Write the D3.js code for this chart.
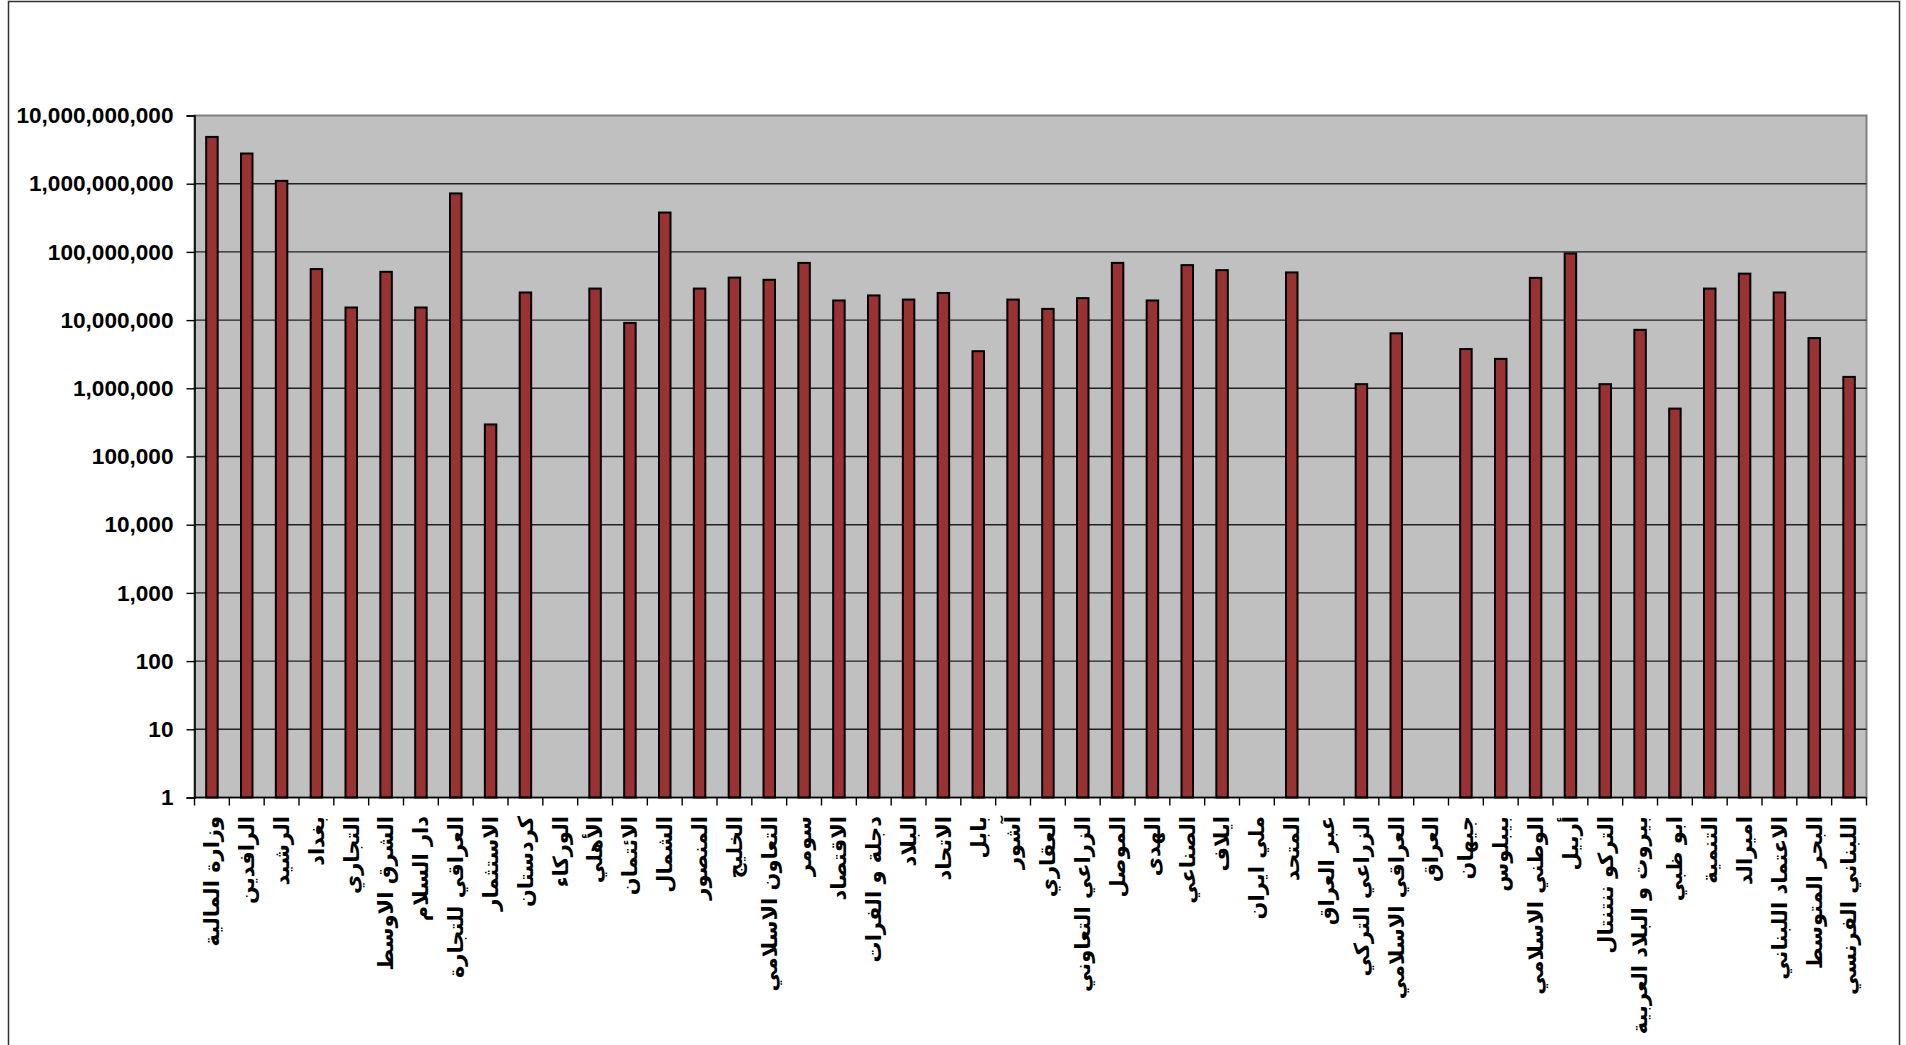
<!DOCTYPE html>
<html>
<head>
<meta charset="utf-8">
<script src="https://cdn.jsdelivr.net/npm/d3@7"></script>
<style>
  body { margin: 0; background: #fff; }
  svg { display: block; }
</style>
</head>
<body>
<div id="chart"></div>
<script>
// bank names, left to right
const banks = [
  "وزارة المالية", "الرافدين", "الرشيد", "بغداد", "التجاري", "الشرق الاوسط",
  "دار السلام", "العراقي للتجارة", "الاستثمار", "كردستان", "الوركاء", "الأهلي",
  "الائتمان", "الشمال", "المنصور", "الخليج", "التعاون الاسلامي", "سومر",
  "الاقتصاد", "دجلة و الفرات", "البلاد", "الاتحاد", "بابل", "آشور",
  "العقاري", "الزراعي التعاوني", "الموصل", "الهدى", "الصناعي", "ايلاف",
  "ملي ايران", "المتحد", "عبر العراق", "الزراعي التركي", "العراقي الاسلامي", "العراق",
  "جيهان", "بيبلوس", "الوطني الاسلامي", "أربيل", "التركو ننتنتال", "بيروت و البلاد العربية",
  "ابو ظبي", "التنمية", "اميرالد", "الاعتماد اللبناني", "البحر المتوسط", "اللبناني الفرنسي"
]

// values (null = no bar)
const amounts = [
  4.85e9, 2.77e9, 1.1e9, 5.6e7, 1.53e7, 5.1e7,
  1.53e7, 7.2e8, 2.95e5, 2.54e7, null, 2.9e7,
  9.1e6, 3.78e8, 2.9e7, 4.2e7, 3.9e7, 6.9e7,
  1.94e7, 2.3e7, 2.0e7, 2.5e7, 3.5e6, 2.0e7,
  1.46e7, 2.1e7, 6.9e7, 1.94e7, 6.4e7, 5.4e7,
  null, 5.0e7, null, 1.15e6, 6.4e6, null,
  3.76e6, 2.7e6, 4.16e7, 9.5e7, 1.15e6, 7.2e6,
  5.04e5, 2.9e7, 4.8e7, 2.54e7, 5.45e6, 1.47e6
]

const yTicks = [1, 10, 100, 1e3, 1e4, 1e5, 1e6, 1e7, 1e8, 1e9, 1e10]

const W = 1906, H = 1045
const plot = { left: 194.5, right: 1866.5, top: 115.5, bottom: 797.5 }

const svg = d3.select("#chart").append("svg")
  .attr("width", W)
  .attr("height", H)

// outer chart frame
svg.append("rect")
  .attr("x", 8.5).attr("y", 1.5)
  .attr("width", 1891).attr("height", 1100)
  .attr("fill", "#fff")
  .attr("stroke", "#333")
  .attr("stroke-width", 1.5)

const x = d3.scaleBand()
  .domain(banks)
  .range([plot.left, plot.right])
  .paddingInner(0.67)
  .paddingOuter(0.335)

const y = d3.scaleLog()
  .domain([1, 1e10])
  .range([plot.bottom, plot.top])

// plot area
svg.append("rect")
  .attr("x", plot.left).attr("y", plot.top)
  .attr("width", plot.right - plot.left)
  .attr("height", plot.bottom - plot.top)
  .attr("fill", "#c0c0c0")
  .attr("stroke", "#808080")
  .attr("stroke-width", 2)

// gridlines
svg.append("g")
  .selectAll("line")
  .data(yTicks.slice(1, -1))
  .join("line")
  .attr("x1", plot.left).attr("x2", plot.right)
  .attr("y1", d => y(d)).attr("y2", d => y(d))
  .attr("stroke", "#222")
  .attr("stroke-width", 1.4)

// bars
svg.append("g")
  .selectAll("rect")
  .data(banks.map((b, i) => ({ bank: b, value: amounts[i] })).filter(d => d.value != null))
  .join("rect")
  .attr("x", d => x(d.bank))
  .attr("y", d => y(d.value))
  .attr("width", x.bandwidth())
  .attr("height", d => y(1) - y(d.value))
  .attr("fill", "#993333")
  .attr("stroke", "#000")
  .attr("stroke-width", 2)

// y axis
const yAxis = svg.append("g")
  .attr("transform", `translate(${plot.left},0)`)
  .call(d3.axisLeft(y)
    .tickValues(yTicks)
    .tickFormat(d3.format(","))
    .tickSize(8)
    .tickPadding(13))
yAxis.select(".domain").attr("stroke", "#000").attr("stroke-width", 1.6)
yAxis.selectAll(".tick line").attr("stroke", "#000").attr("stroke-width", 1.4)
yAxis.selectAll("text")
  .attr("font-family", "'Liberation Sans', Arial, sans-serif")
  .attr("font-weight", "bold")
  .attr("font-size", 22.6)
  .attr("fill", "#000")

// x axis line and slot ticks
svg.append("line")
  .attr("x1", plot.left).attr("x2", plot.right)
  .attr("y1", plot.bottom).attr("y2", plot.bottom)
  .attr("stroke", "#000")
  .attr("stroke-width", 1.6)

svg.append("g")
  .selectAll("line")
  .data(d3.range(banks.length + 1))
  .join("line")
  .attr("x1", i => x.range()[0] + i * x.step())
  .attr("x2", i => x.range()[0] + i * x.step())
  .attr("y1", plot.bottom).attr("y2", plot.bottom + 8)
  .attr("stroke", "#000")
  .attr("stroke-width", 1.4)

// rotated category labels
svg.append("g")
  .selectAll("text")
  .data(banks)
  .join("text")
  .attr("transform", d => `translate(${x(d) + x.bandwidth() / 2},816) rotate(-90)`)
  .attr("text-anchor", "end")
  .attr("dy", "0.35em")
  .attr("font-family", "'DejaVu Sans', sans-serif")
  .attr("font-weight", "bold")
  .attr("font-size", 21)
  .attr("fill", "#000")
  .text(d => d)
</script>
</body>
</html>
